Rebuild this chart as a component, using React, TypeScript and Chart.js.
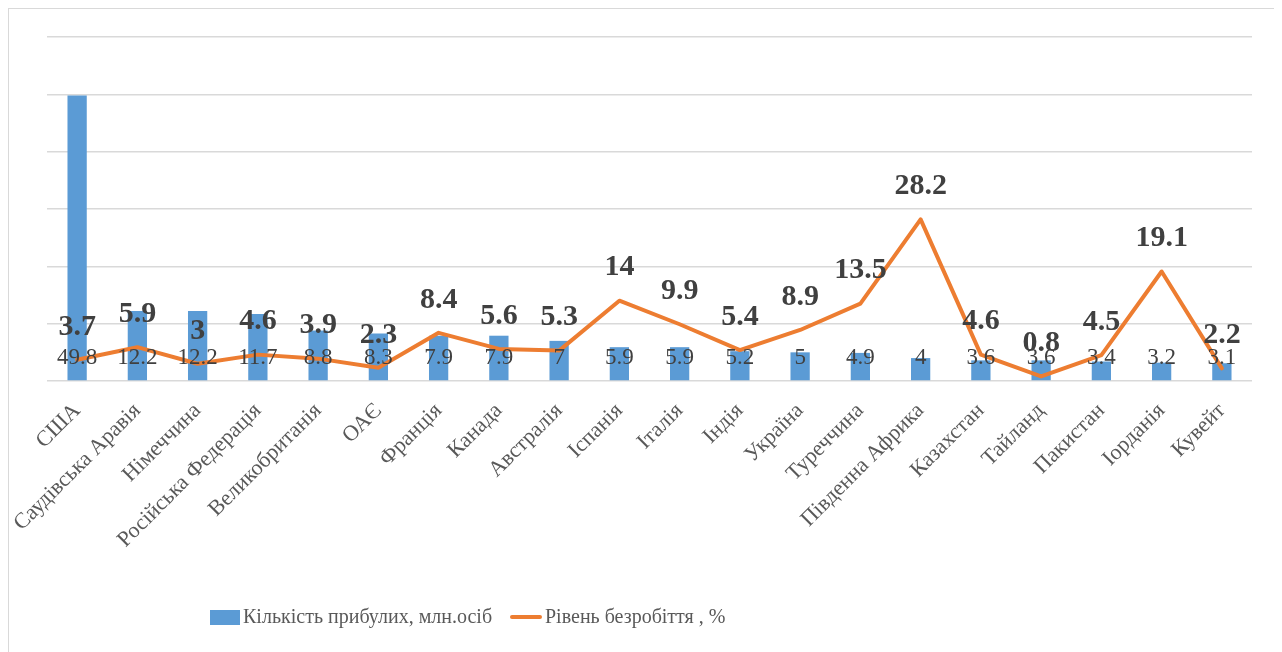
import React, { useEffect, useRef } from "react";
import { Chart, registerables } from "chart.js";

Chart.register(...registerables);

const categories = [
  "США",
  "Саудівська Аравія",
  "Німеччина",
  "Російська Федерація",
  "Великобританія",
  "ОАЄ",
  "Франція",
  "Канада",
  "Австралія",
  "Іспанія",
  "Італія",
  "Індія",
  "Україна",
  "Туреччина",
  "Південна Африка",
  "Казахстан",
  "Тайланд",
  "Пакистан",
  "Іорданія",
  "Кувейт",
];

const arrivals = [49.8, 12.2, 12.2, 11.7, 8.8, 8.3, 7.9, 7.9, 7, 5.9, 5.9, 5.2, 5, 4.9, 4, 3.6, 3.6, 3.4, 3.2, 3.1];
const unemployment = [3.7, 5.9, 3, 4.6, 3.9, 2.3, 8.4, 5.6, 5.3, 14, 9.9, 5.4, 8.9, 13.5, 28.2, 4.6, 0.8, 4.5, 19.1, 2.2];

const arrivalsLabel = "Кількість прибулих, млн.осіб";
const unemploymentLabel = "Рівень безробіття , %";

const BLUE = "#5B9BD5";
const ORANGE = "#ED7D31";
const FONT = "'Liberation Serif', 'Times New Roman', serif";

const labelsPlugin = {
  id: "valueLabels",
  afterDatasetsDraw(chart: any) {
    const ctx = chart.ctx;
    const yScale = chart.scales.y;
    ctx.save();
    ctx.textAlign = "center";
    ctx.textBaseline = "middle";
    const barMeta = chart.getDatasetMeta(0);
    ctx.font = `23px ${FONT}`;
    ctx.fillStyle = "#404040";
    const barLabelY = yScale.getPixelForValue(4);
    barMeta.data.forEach((el: any, i: number) => {
      ctx.fillText(String(arrivals[i]), el.x, barLabelY);
    });
    const lineMeta = chart.getDatasetMeta(1);
    ctx.font = `bold 30px ${FONT}`;
    lineMeta.data.forEach((el: any, i: number) => {
      ctx.fillText(String(unemployment[i]), el.x, el.y - 33);
    });
    ctx.restore();
  },
  afterDraw(chart: any) {
    const ctx = chart.ctx;
    ctx.save();
    const y = 608;
    let x = 201;
    ctx.font = `20px ${FONT}`;
    ctx.textBaseline = "middle";
    ctx.textAlign = "left";
    ctx.fillStyle = BLUE;
    ctx.fillRect(x, y - 7, 30, 15);
    ctx.fillStyle = "#595959";
    ctx.fillText(arrivalsLabel, x + 33, y + 1);
    x = 501;
    ctx.strokeStyle = ORANGE;
    ctx.lineWidth = 4;
    ctx.lineCap = "round";
    ctx.beginPath();
    ctx.moveTo(x + 2, y);
    ctx.lineTo(x + 30, y);
    ctx.stroke();
    ctx.fillText(unemploymentLabel, x + 35, y + 1);
    ctx.restore();
  },
};

export default function App() {
  const ref = useRef<HTMLCanvasElement>(null);

  useEffect(() => {
    document.body.style.overflow = "hidden";
    const chart = new Chart(ref.current as HTMLCanvasElement, {
      type: "bar",
      data: {
        labels: categories,
        datasets: [
          {
            type: "bar",
            label: arrivalsLabel,
            data: arrivals,
            backgroundColor: BLUE,
            barPercentage: 0.32,
            categoryPercentage: 1,
            order: 2,
          },
          {
            type: "line",
            label: unemploymentLabel,
            data: unemployment,
            borderColor: ORANGE,
            backgroundColor: ORANGE,
            borderWidth: 4,
            pointRadius: 0,
            tension: 0,
            borderJoinStyle: "round",
            borderCapStyle: "round",
            order: 1,
          },
        ] as any,
      },
      options: {
        animation: false,
        responsive: false,
        maintainAspectRatio: false,
        layout: { padding: { left: 38, right: 28, top: 28, bottom: 78 } },
        plugins: {
          legend: { display: false },
          tooltip: { enabled: false },
        },
        scales: {
          x: {
            grid: { display: false },
            border: { display: false },
            ticks: {
              color: "#595959",
              font: { family: FONT, size: 22 },
              maxRotation: 45,
              minRotation: 45,
              autoSkip: false,
              padding: 9,
            },
            afterFit: (s: any) => {
              s.height = 200;
            },
          },
          y: {
            min: 0,
            max: 60,
            ticks: { display: false, stepSize: 10 },
            grid: { color: "#d9d9d9", lineWidth: 1.5, drawTicks: false },
            border: { display: false },
            afterFit: (s: any) => {
              s.width = 0;
            },
          },
        },
      } as any,
      plugins: [labelsPlugin],
    });
    return () => chart.destroy();
  }, []);

  return (
    <div
      style={{
        width: 1273,
        height: 660,
        boxSizing: "border-box",
        border: "1px solid #d9d9d9",
        background: "#fff",
      }}
    >
      <canvas ref={ref} width={1271} height={650} style={{ display: "block" }} />
    </div>
  );
}
